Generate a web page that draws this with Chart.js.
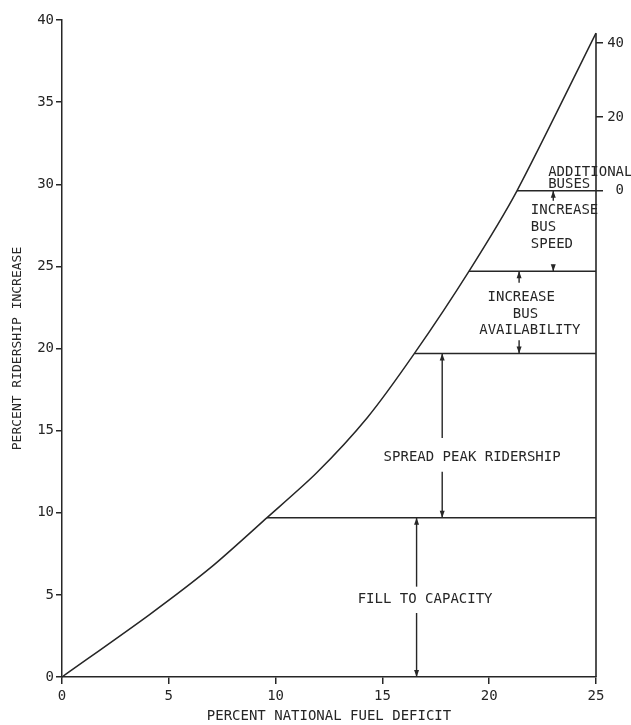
<!DOCTYPE html>
<html>
<head>
<meta charset="utf-8">
<style>
html,body{margin:0;padding:0;background:#fff;}
#wrap{width:631px;height:725px;position:relative;}
</style>
<script src="https://cdn.jsdelivr.net/npm/chart.js@4.4.0/dist/chart.umd.min.js"></script>
</head>
<body>
<div id="wrap"><canvas id="c"></canvas></div>
<script>
// ---- tick labels ----
const xTickValues = [0, 5, 10, 15, 20, 25];
const yTickValues = [0, 5, 10, 15, 20, 25, 30, 35, 40];
const rightTickValues = [0, 20, 40];
const rightZeroAt = 29.6;   // left-scale value where right scale reads 0
const rightFortyAt = 38.6;  // left-scale value where right scale reads 40

// ---- main curve ----
const deficit   = [0, 4.1, 7.0, 9.6, 11.9, 14.3, 16.5, 19.05, 21.3, 25.0];
const ridership = [0, 3.8, 6.7, 9.7, 12.4, 15.8, 19.7, 24.7, 29.6, 39.2];

// ---- horizontal level lines (from curve to right boundary) ----
const levelY      = [9.7, 19.7, 24.7, 29.6];
const levelStartX = [9.6, 16.5, 19.05, 21.3];
const boundaryX   = 25;
const boundaryTop = 39.2;

// ---- arrows (head at "to" end) ----
const arrowX    = [16.6, 16.6, 17.8, 17.8, 21.4, 21.4, 23.0, 23.0];
const arrowFrom = [3.9,  5.5,  12.5, 14.55, 20.5, 24.0, 25.1, 29.0];
const arrowTo   = [0,    9.7,  9.7,  19.7, 19.7, 24.7, 24.7, 29.6];

// ---- annotation texts ----
const noteText  = ['FILL TO CAPACITY', 'SPREAD PEAK RIDERSHIP', 'INCREASE', 'BUS', 'AVAILABILITY',
                   'INCREASE', 'BUS', 'SPEED', 'ADDITIONAL', 'BUSES'];
const noteX     = [17.0, 19.2, 21.5, 21.7, 21.9, 21.95, 21.95, 21.95, 22.76, 22.76];
const noteY     = [4.7, 13.4, 23.1, 22.1, 21.1, 28.43, 27.4, 26.35, 30.7, 30.0];
const noteAlign = ['center','center','center','center','center','left','left','left','left','left'];

const INK = '#262626';
const FONT = "'DejaVu Sans Mono', monospace";

const seg = (pts, extra) => Object.assign({
  data: pts, showLine: true, borderColor: INK, borderWidth: 1.5,
  pointRadius: 0, fill: false, tension: 0, clip: 6
}, extra || {});

const datasets = [];
datasets.push(seg(deficit.map((d, i) => ({x: d, y: ridership[i]})), {tension: 0.25}));
levelY.forEach((v, i) => datasets.push(seg([{x: levelStartX[i], y: v}, {x: boundaryX, y: v}])));
datasets.push(seg([{x: boundaryX, y: 0}, {x: boundaryX, y: boundaryTop}], {borderWidth: 1.6}));
arrowX.forEach((ax, i) => datasets.push(seg([{x: ax, y: arrowFrom[i]}, {x: ax, y: arrowTo[i]}], {borderWidth: 1.4})));

const k = 40 / (rightFortyAt - rightZeroAt);

const overlay = {
  id: 'overlay',
  afterDatasetsDraw(chart) {
    const {ctx, scales: {x, y}} = chart;
    ctx.save();
    ctx.fillStyle = INK;
    arrowX.forEach((ax, i) => {
      const px = x.getPixelForValue(ax);
      const tip = y.getPixelForValue(arrowTo[i]);
      const from = y.getPixelForValue(arrowFrom[i]);
      const dir = Math.sign(tip - from);
      ctx.beginPath();
      ctx.moveTo(px, tip);
      ctx.lineTo(px - 2.5, tip - dir * 7);
      ctx.lineTo(px + 2.5, tip - dir * 7);
      ctx.closePath();
      ctx.fill();
    });
    ctx.font = '14px ' + FONT;
    ctx.textBaseline = 'middle';
    noteText.forEach((t, i) => {
      ctx.textAlign = noteAlign[i];
      ctx.fillText(t, x.getPixelForValue(noteX[i]), y.getPixelForValue(noteY[i]));
    });
    ctx.restore();
  }
};

new Chart(document.getElementById('c'), {
  type: 'scatter',
  data: {datasets},
  plugins: [overlay],
  options: {
    responsive: true,
    maintainAspectRatio: false,
    animation: false,
    events: [],
    layout: {padding: {top: 20, left: 0, right: 7, bottom: 0}},
    plugins: {legend: {display: false}, tooltip: {enabled: false}},
    scales: {
      x: {
        type: 'linear', min: 0, max: 25,
        afterBuildTicks: s => { s.ticks = xTickValues.map(v => ({value: v})); },
        afterFit: s => { s.height = 48; },
        grid: {drawOnChartArea: false, drawTicks: true, tickLength: 7, color: INK, lineWidth: 1.5},
        border: {display: true, color: INK, width: 1.5},
        ticks: {color: INK, font: {family: FONT, size: 14}, padding: 4, maxRotation: 0},
        title: {display: true, text: 'PERCENT NATIONAL FUEL DEFICIT', color: INK,
                font: {family: FONT, size: 14}, padding: {top: 0, bottom: 0}}
      },
      y: {
        type: 'linear', min: 0, max: 40, position: 'left',
        afterBuildTicks: s => { s.ticks = yTickValues.map(v => ({value: v})); },
        afterFit: s => { s.width = 62; },
        grid: {drawOnChartArea: false, drawTicks: true, tickLength: 6, color: INK, lineWidth: 1.5},
        border: {display: true, color: INK, width: 1.5},
        ticks: {color: INK, font: {family: FONT, size: 14}, padding: 2},
        title: {display: true, text: 'PERCENT RIDERSHIP INCREASE', color: INK,
                font: {family: FONT, size: 13}, padding: {top: 10, bottom: 0}}
      },
      y2: {
        type: 'linear', position: 'right',
        min: (0 - rightZeroAt) * k, max: (40 - rightZeroAt) * k,
        afterBuildTicks: s => { s.ticks = rightTickValues.map(v => ({value: v})); },
        afterFit: s => { s.width = 28; },
        grid: {drawOnChartArea: false, drawTicks: true, tickLength: 7, color: INK, lineWidth: 1.5},
        border: {display: false},
        ticks: {color: INK, font: {family: FONT, size: 14}, padding: 3, crossAlign: 'far'}
      }
    }
  }
});
</script>
</body>
</html>
